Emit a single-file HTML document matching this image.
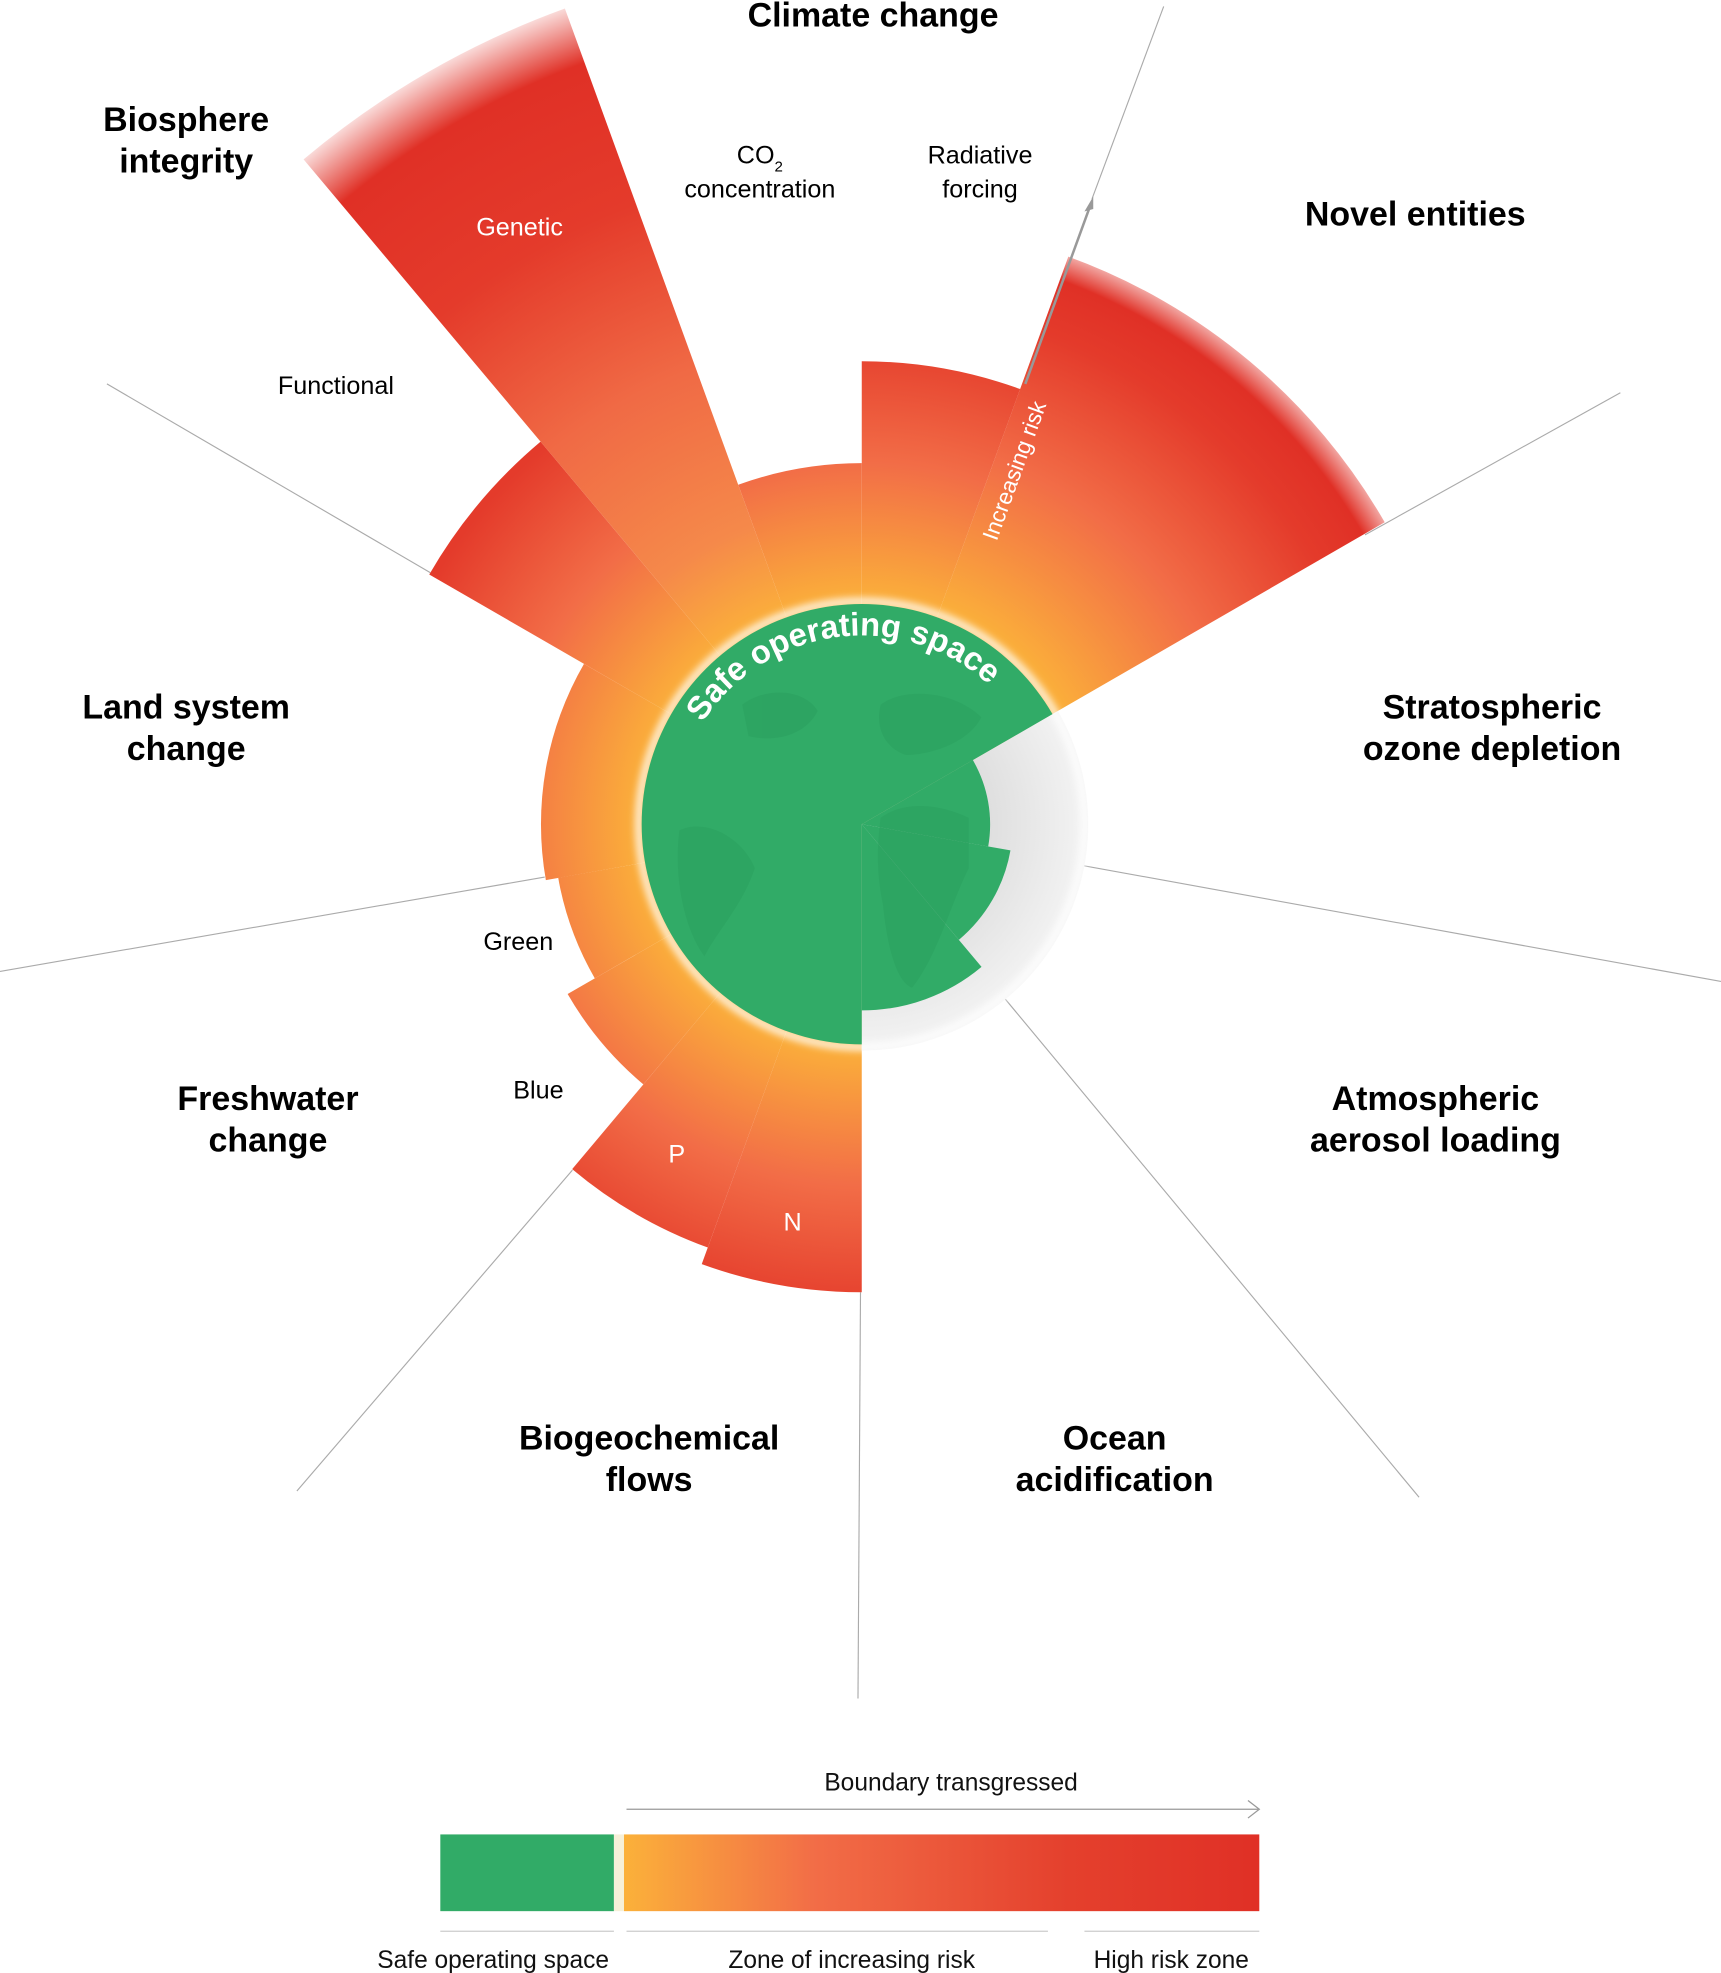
<!DOCTYPE html>
<html><head><meta charset="utf-8"><style>
html,body{margin:0;padding:0;background:#fff}
svg{display:block}
text{font-family:"Liberation Sans",Arial,sans-serif}
.b{font-weight:bold;font-size:27px;fill:#000;text-anchor:middle}
.s{font-size:20px;fill:#000;text-anchor:middle}
.w{font-size:20px;fill:#fff;text-anchor:middle}
.l{font-size:19.5px;fill:#111;text-anchor:middle}
</style></head><body>
<svg width="1721" height="1973" viewBox="0 0 1368 1568" xmlns="http://www.w3.org/2000/svg">
<defs>
<radialGradient id="g" gradientUnits="userSpaceOnUse" cx="685" cy="655" r="700">
<stop offset="0.25" stop-color="#fbb13a"/>
<stop offset="0.41" stop-color="#f26d47"/>
<stop offset="0.56" stop-color="#e43b2b"/>
<stop offset="1" stop-color="#e03026"/>
</radialGradient>
<radialGradient id="gn" gradientUnits="userSpaceOnUse" cx="685" cy="655" r="495">
<stop offset="0.36" stop-color="#fbb13a"/>
<stop offset="0.62" stop-color="#f26d47"/>
<stop offset="0.84" stop-color="#e43b2b"/>
<stop offset="0.93" stop-color="#e03026" stop-opacity="1"/>
<stop offset="1" stop-color="#e03026" stop-opacity="0"/>
</radialGradient>
<radialGradient id="gg" gradientUnits="userSpaceOnUse" cx="685" cy="655" r="700">
<stop offset="0.25" stop-color="#fbb13a"/>
<stop offset="0.36" stop-color="#f5894a"/>
<stop offset="0.55" stop-color="#f06a45"/>
<stop offset="0.75" stop-color="#e43b2b"/>
<stop offset="0.92" stop-color="#e03026" stop-opacity="1"/>
<stop offset="1" stop-color="#e03026" stop-opacity="0"/>
</radialGradient>
<radialGradient id="gray" gradientUnits="userSpaceOnUse" cx="685" cy="655" r="182">
<stop offset="0.5" stop-color="#dcdcdc"/>
<stop offset="1" stop-color="#f4f4f4"/>
</radialGradient>
<linearGradient id="lg" x1="0" x2="1" y1="0" y2="0">
<stop offset="0" stop-color="#fbb13a"/>
<stop offset="0.3" stop-color="#f26d47"/>
<stop offset="0.7" stop-color="#e4402d"/>
<stop offset="1" stop-color="#e03026"/>
</linearGradient>
<filter id="blur" x="-20%" y="-20%" width="140%" height="140%"><feGaussianBlur stdDeviation="3"/></filter>
<path id="arc" d="M549,591.6 A150,150 0 0 1 799.9,558.6"/>
</defs>

<g stroke="#aaa" stroke-width="0.9" fill="none">
<line x1="868" y1="158" x2="925" y2="5"/>
<line x1="1085" y1="425" x2="1288" y2="312"/>
<line x1="790" y1="675" x2="1368" y2="780"/>
<line x1="775" y1="765" x2="1128" y2="1190"/>
<line x1="684" y1="1027" x2="682" y2="1350"/>
<line x1="455" y1="930" x2="236" y2="1185"/>
<line x1="433" y1="697" x2="0" y2="772"/>
<line x1="342" y1="455" x2="85" y2="305"/>
</g>

<path d="M685,655 L586.8,385.2 A287,287 0 0 1 685,368 Z" fill="url(#g)"/>
<path d="M685,655 L685,287 A368,368 0 0 1 810.9,309.1 Z" fill="url(#g)"/>
<path d="M685,655 L849.2,203.8 A480,480 0 0 1 1100.7,415 Z" fill="url(#gn)"/>
<path d="M685,655 L685,1027 A372,372 0 0 1 557.8,1004.7 Z" fill="url(#g)"/>
<path d="M685,655 L562.6,991.5 A358,358 0 0 1 454.8,929.2 Z" fill="url(#g)"/>
<path d="M685,655 L511.4,861.8 A270,270 0 0 1 451.2,790 Z" fill="url(#g)"/>
<path d="M685,655 L472.8,777.5 A245,245 0 0 1 443.7,697.6 Z" fill="url(#g)"/>
<path d="M685,655 L433.9,699.4 A255,255 0 0 1 464.2,527.5 Z" fill="url(#g)"/>
<path d="M685,655 L341.2,456.5 A397,397 0 0 1 429.7,350.9 Z" fill="url(#g)"/>
<path d="M685,655 L241.3,126.5 A690,690 0 0 1 449,6.6 Z" fill="url(#gg)"/>

<path d="M685,655 L840.9,565 A180,180 0 0 1 685,835 Z" fill="url(#gray)"/>

<circle cx="685" cy="655" r="177" fill="none" stroke="#fff" stroke-width="6" opacity="0.85" filter="url(#blur)"/>

<path d="M685,655 L685,830 A175,175 0 1 1 836.6,567.5 Z" fill="#31ab67"/>
<path d="M685,655 L773.3,604 A102,102 0 0 1 785.5,672.7 Z" fill="#31ab67"/>
<path d="M685,655 L803.2,675.8 A120,120 0 0 1 762.2,746.9 Z" fill="#31ab67"/>
<path d="M685,655 L780.2,768.4 A148,148 0 0 1 685,803 Z" fill="#31ab67"/>

<g fill="#2a9d5e" opacity="0.45">
<path d="M700,650 C720,635 750,640 770,650 L770,690 C755,720 745,760 725,785 C712,780 705,750 702,720 C698,700 696,680 700,650 Z"/>
<path d="M700,560 C720,545 760,550 780,570 C770,590 740,600 720,600 C705,595 695,580 700,560 Z"/>
<path d="M540,660 C560,650 590,665 600,690 C590,720 570,740 560,760 C545,740 535,700 540,660 Z"/>
<path d="M590,560 C610,545 640,548 650,565 C640,585 615,590 595,585 Z"/>
</g>

<text font-weight="bold" font-size="26" fill="#fff"><textPath href="#arc" startOffset="50%" text-anchor="middle">Safe operating space</textPath></text>

<line x1="815" y1="305" x2="866" y2="165" stroke="#999" stroke-width="2"/>
<path d="M869,156 L862,168 L869,166 Z" fill="#999"/>
<text x="0" y="0" font-size="18" fill="#fff" text-anchor="middle" transform="translate(812,376) rotate(-70)">Increasing risk</text>

<text class="b" x="694" y="21">Climate change</text>
<text class="b" x="148" y="104">Biosphere</text>
<text class="b" x="148" y="137">integrity</text>
<text class="b" x="1125" y="179">Novel entities</text>
<text class="b" x="148" y="571">Land system</text>
<text class="b" x="148" y="604">change</text>
<text class="b" x="1186" y="571">Stratospheric</text>
<text class="b" x="1186" y="604">ozone depletion</text>
<text class="b" x="213" y="882">Freshwater</text>
<text class="b" x="213" y="915">change</text>
<text class="b" x="1141" y="882">Atmospheric</text>
<text class="b" x="1141" y="915">aerosol loading</text>
<text class="b" x="516" y="1152">Biogeochemical</text>
<text class="b" x="516" y="1185">flows</text>
<text class="b" x="886" y="1152">Ocean</text>
<text class="b" x="886" y="1185">acidification</text>

<text class="s" x="604" y="130">CO<tspan font-size="12" dy="6">2</tspan></text>
<text class="s" x="604" y="157">concentration</text>
<text class="s" x="779" y="130">Radiative</text>
<text class="s" x="779" y="157">forcing</text>
<text class="w" x="413" y="187">Genetic</text>
<text class="s" x="267" y="313">Functional</text>
<text class="s" x="412" y="755">Green</text>
<text class="s" x="428" y="873">Blue</text>
<text class="w" x="538" y="924">P</text>
<text class="w" x="630" y="978">N</text>

<text class="l" x="756" y="1423">Boundary transgressed</text>
<line x1="498" y1="1438" x2="1000" y2="1438" stroke="#999" stroke-width="1"/>
<path d="M992,1431 L1001,1438 L992,1445" fill="none" stroke="#999" stroke-width="1"/>
<rect x="350" y="1458" width="138" height="61" fill="#31ab67"/>
<rect x="488" y="1458" width="8" height="61" fill="#f6f0d8"/>
<rect x="496" y="1458" width="505" height="61" fill="url(#lg)"/>
<g stroke="#ccc" stroke-width="1">
<line x1="350" y1="1535" x2="488" y2="1535"/>
<line x1="498" y1="1535" x2="833" y2="1535"/>
<line x1="862" y1="1535" x2="1001" y2="1535"/>
</g>
<text class="l" x="392" y="1564">Safe operating space</text>
<text class="l" x="677" y="1564">Zone of increasing risk</text>
<text class="l" x="931" y="1564">High risk zone</text>
</svg>
</body></html>
